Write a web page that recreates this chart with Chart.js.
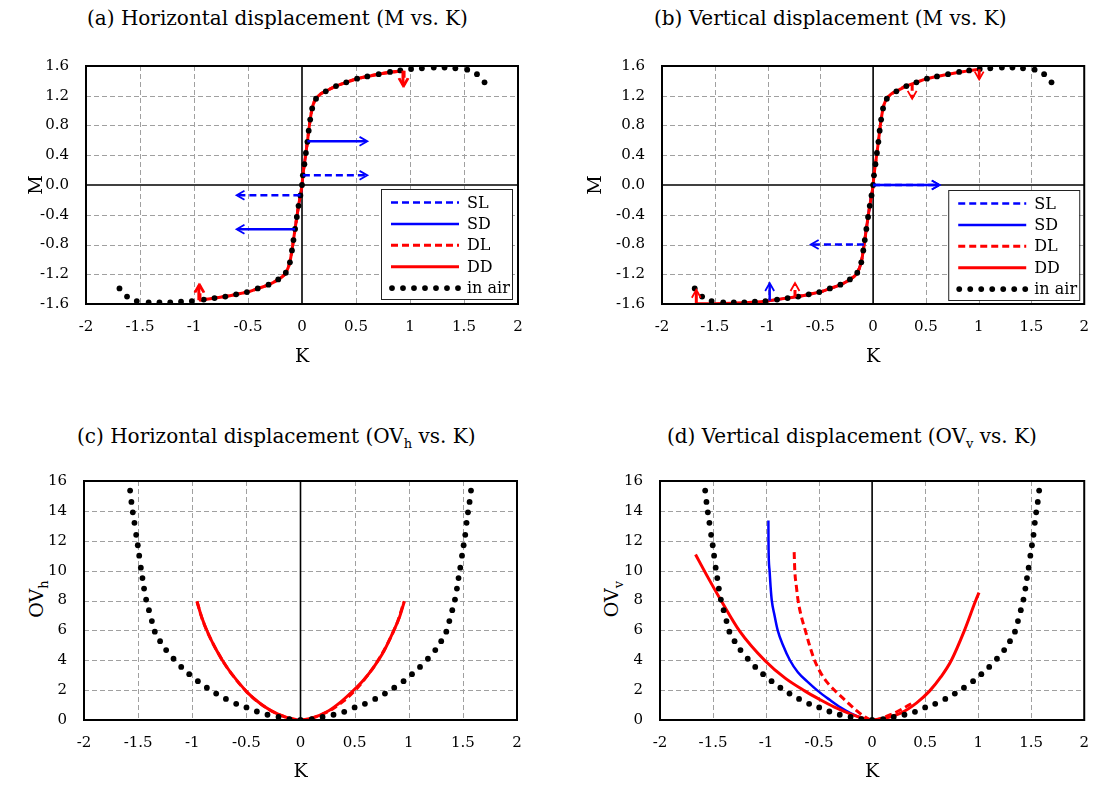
<!DOCTYPE html>
<html>
<head>
<meta charset="utf-8">
<script src="https://cdn.jsdelivr.net/npm/chart.js@4.4.1/dist/chart.umd.min.js"></script>
<style>
  body { margin: 0; width: 1103px; height: 788px; overflow: hidden; background: #fff; position: relative;
         font-family: "DejaVu Serif", serif; color: #000; }
  canvas { position: absolute; }
  .ttl { position: absolute; font-size: 20px; line-height: 20px; white-space: nowrap; }
  .ylab { position: absolute; font-size: 19px; line-height: 19px; white-space: nowrap;
          transform: translate(-50%, -50%) rotate(-90deg); }
  .sub { font-size: 13px; position: relative; top: 5px; }
</style>
</head>
<body>
<div class="ttl" style="left:87px; top:8px">(a) Horizontal displacement (M vs. K)</div>
<div class="ttl" style="left:654px; top:8px">(b) Vertical displacement (M vs. K)</div>
<div class="ttl" style="left:77px; top:426px">(c) Horizontal displacement (OV<span class="sub">h</span> vs. K)</div>
<div class="ttl" style="left:667px; top:426px">(d) Vertical displacement (OV<span class="sub">v</span> vs. K)</div>
<div class="ylab" style="left:37px; top:599px">OV<span class="sub">h</span></div>
<div class="ylab" style="left:612px; top:599px">OV<span class="sub">v</span></div>

<canvas id="chartA" width="545" height="345" style="left:0; top:40px"></canvas>
<canvas id="chartB" width="543" height="345" style="left:560px; top:40px"></canvas>
<canvas id="chartC" width="545" height="333" style="left:0; top:455px"></canvas>
<canvas id="chartD" width="543" height="333" style="left:560px; top:455px"></canvas>

<script>
// tick labels
const K_TICKS = ['-2', '-1.5', '-1', '-0.5', '0', '0.5', '1', '1.5', '2'];
const M_TICKS = ['-1.6', '-1.2', '-0.8', '-0.4', '0.0', '0.4', '0.8', '1.2', '1.6'];
const OV_TICKS = ['0', '2', '4', '6', '8', '10', '12', '14', '16'];

// in air, M vs K (panels a, b)
const airK = [-1.69, -1.62, -1.53, -1.42, -1.32, -1.22, -1.12, -1.02, -0.91, -0.81, -0.71, -0.61, -0.51, -0.41, -0.31, -0.22, -0.15, -0.112, -0.093, -0.079, -0.064, -0.048, -0.032, -0.015, 0,
              0.008, 0.022, 0.036, 0.05, 0.062, 0.076, 0.094, 0.13, 0.22, 0.315, 0.41, 0.51, 0.605, 0.71, 0.815, 0.91, 1.01, 1.11, 1.22, 1.32, 1.42, 1.53, 1.62, 1.69];
const airM = [-1.39, -1.50, -1.56, -1.58, -1.58, -1.58, -1.57, -1.56, -1.54, -1.52, -1.50, -1.47, -1.44, -1.39, -1.34, -1.27, -1.18, -1.04, -0.88, -0.74, -0.59, -0.43, -0.28, -0.14, 0,
              0.13, 0.28, 0.43, 0.58, 0.73, 0.88, 1.03, 1.16, 1.26, 1.33, 1.38, 1.43, 1.46, 1.49, 1.52, 1.54, 1.56, 1.57, 1.58, 1.58, 1.57, 1.55, 1.49, 1.38];

// in air, OV vs K (panels c, d)
const airOvK = [-1.574, -1.562, -1.549, -1.534, -1.518, -1.503, -1.49, -1.475, -1.46, -1.445, -1.426, -1.40, -1.373, -1.346, -1.297, -1.241, -1.173, -1.102, -1.028, -0.948, -0.865, -0.779, -0.689, -0.594, -0.499, -0.403, -0.305, -0.203, -0.102, 0,
                0.104, 0.204, 0.305, 0.404, 0.5, 0.595, 0.69, 0.78, 0.866, 0.952, 1.03, 1.104, 1.177, 1.245, 1.30, 1.347, 1.375, 1.402, 1.427, 1.445, 1.46, 1.476, 1.492, 1.507, 1.522, 1.534, 1.547, 1.562, 1.575];
const airOv = [15.36, 14.6, 13.9, 13.2, 12.4, 11.7, 11.0, 10.2, 9.5, 8.8, 8.06, 7.35, 6.62, 5.91, 5.28, 4.68, 4.1, 3.55, 3.07, 2.6, 2.16, 1.77, 1.41, 1.08, 0.84, 0.57, 0.35, 0.2, 0.05, 0,
               0.05, 0.2, 0.35, 0.55, 0.84, 1.08, 1.41, 1.77, 2.16, 2.6, 3.07, 3.55, 4.1, 4.68, 5.28, 5.91, 6.62, 7.35, 8.06, 8.8, 9.5, 10.2, 11.0, 11.7, 12.4, 13.2, 13.9, 14.6, 15.36];

// (a) horizontal displacement, M vs K
const slKa = [-0.015, 0, 0.008];
const slMa = [-0.137, 0, 0.13];
const sdKa = [-0.064, -0.048, -0.032, -0.015, 0, 0.008, 0.022, 0.036, 0.05];
const sdMa = [-0.595, -0.43, -0.28, -0.14, 0, 0.13, 0.28, 0.43, 0.587];
const dlKa = [-0.945, -0.9, -0.8, -0.7, -0.6, -0.5, -0.4, -0.3, -0.22, -0.16, -0.13, -0.11, -0.093, -0.079, -0.064, -0.048, -0.032, -0.015, 0,
              0.008, 0.022, 0.036, 0.05, 0.062, 0.076, 0.094, 0.12, 0.16, 0.22, 0.315, 0.41, 0.51, 0.605, 0.71, 0.815, 0.945];
const dlMa = [-1.548, -1.538, -1.518, -1.497, -1.468, -1.437, -1.388, -1.335, -1.27, -1.2, -1.12, -1.02, -0.88, -0.74, -0.59, -0.43, -0.28, -0.14, 0,
              0.13, 0.28, 0.43, 0.58, 0.73, 0.88, 1.03, 1.14, 1.21, 1.26, 1.33, 1.38, 1.43, 1.46, 1.49, 1.515, 1.536];
const ddKa = [-0.955, -0.9, -0.8, -0.7, -0.6, -0.5, -0.4, -0.3, -0.22, -0.16, -0.13, -0.11, -0.093, -0.079, -0.064, -0.048, -0.032, -0.015, 0,
              0.008, 0.022, 0.036, 0.05, 0.062, 0.076, 0.094, 0.12, 0.16, 0.22, 0.315, 0.41, 0.51, 0.605, 0.71, 0.815, 0.935];
const ddMa = [-1.548, -1.538, -1.518, -1.497, -1.468, -1.437, -1.388, -1.335, -1.27, -1.2, -1.12, -1.02, -0.88, -0.74, -0.59, -0.43, -0.28, -0.14, 0,
              0.13, 0.28, 0.43, 0.58, 0.73, 0.88, 1.03, 1.14, 1.21, 1.26, 1.33, 1.38, 1.43, 1.46, 1.49, 1.515, 1.536];
// arrows as [K start, M start, K end, M end]
const slArrowsA = [[0.008, 0.13, 0.605, 0.13], [-0.015, -0.137, -0.605, -0.137]];
const sdArrowsA = [[0.05, 0.587, 0.605, 0.587], [-0.064, -0.595, -0.605, -0.595]];
const dlArrowsA = [[-0.945, -1.548, -0.945, -1.34], [0.945, 1.536, 0.945, 1.33]];
const ddArrowsA = [[-0.955, -1.548, -0.955, -1.34], [0.935, 1.536, 0.935, 1.33]];

// (b) vertical displacement, M vs K
const slKb = [-0.087, -0.079, -0.064, -0.048, -0.032, -0.015, 0];
const slMb = [-0.8, -0.74, -0.59, -0.43, -0.28, -0.14, 0];
const sdKb = [-0.98, -0.9, -0.8, -0.7, -0.6, -0.5, -0.4, -0.3, -0.22, -0.16, -0.13, -0.11, -0.093, -0.079, -0.064, -0.048, -0.032, -0.015, 0];
const sdMb = [-1.555, -1.538, -1.518, -1.497, -1.468, -1.437, -1.388, -1.335, -1.27, -1.2, -1.12, -1.02, -0.88, -0.74, -0.59, -0.43, -0.28, -0.14, 0];
const dlKb = [-0.74, -0.7, -0.6, -0.5, -0.4, -0.3, -0.22, -0.16, -0.13, -0.11, -0.093, -0.079, -0.064, -0.048, -0.032, -0.015, 0,
              0.008, 0.022, 0.036, 0.05, 0.062, 0.076, 0.094, 0.12, 0.16, 0.22, 0.3, 0.37];
const dlMb = [-1.505, -1.497, -1.468, -1.437, -1.388, -1.335, -1.27, -1.2, -1.12, -1.02, -0.88, -0.74, -0.59, -0.43, -0.28, -0.14, 0,
              0.13, 0.28, 0.43, 0.58, 0.73, 0.88, 1.03, 1.14, 1.21, 1.26, 1.325, 1.36];
const ddKb = [-1.675, -1.5, -1.3, -1.15, -1.0, -0.9, -0.8, -0.7, -0.6, -0.5, -0.4, -0.3, -0.22, -0.16, -0.13, -0.11, -0.093, -0.079, -0.064, -0.048, -0.032, -0.015, 0,
              0.008, 0.022, 0.036, 0.05, 0.062, 0.076, 0.094, 0.12, 0.16, 0.22, 0.315, 0.41, 0.51, 0.605, 0.71, 0.815, 0.91, 1.005];
const ddMb = [-1.598, -1.595, -1.588, -1.578, -1.56, -1.538, -1.518, -1.497, -1.468, -1.437, -1.388, -1.335, -1.27, -1.2, -1.12, -1.02, -0.88, -0.74, -0.59, -0.43, -0.28, -0.14, 0,
              0.13, 0.28, 0.43, 0.58, 0.73, 0.88, 1.03, 1.14, 1.21, 1.26, 1.33, 1.38, 1.43, 1.46, 1.49, 1.515, 1.538, 1.555];
const slArrowsB = [[-0.087, -0.8, -0.59, -0.8], [0, 0, 0.63, 0]];
const sdArrowsB = [[-0.98, -1.555, -0.98, -1.32], [0, 0, 0.63, 0]];
const dlArrowsB = [[-0.74, -1.505, -0.74, -1.32], [0.37, 1.36, 0.37, 1.16]];
const ddArrowsB = [[-1.675, -1.598, -1.675, -1.41], [1.005, 1.555, 1.005, 1.42]];

// (c) horizontal displacement, OVh vs K
const slKc = [-0.02, 0, 0.01];
const slOvc = [0.01, 0, 0.005];
const sdKc = [-0.07, 0, 0.05];
const sdOvc = [0.04, 0, 0.02];
const dlKc = [-0.955, -0.9, -0.8, -0.7, -0.6, -0.5, -0.4, -0.3, -0.2, -0.1, 0, 0.1, 0.2, 0.3, 0.4, 0.5, 0.6, 0.7, 0.8, 0.9, 0.955];
const dlOvc = [7.9, 6.6, 5.0, 3.75, 2.75, 1.9, 1.25, 0.74, 0.37, 0.12, 0, 0.12, 0.37, 0.76, 1.28, 1.95, 2.8, 3.8, 5.05, 6.65, 7.9];
const ddKc = [-0.957, -0.911, -0.85, -0.773, -0.68, -0.588, -0.48, -0.372, -0.28, -0.188, -0.095, 0, 0.1, 0.244, 0.37, 0.49, 0.585, 0.675, 0.77, 0.86, 0.915, 0.96];
const ddOvc = [7.95, 6.84, 5.74, 4.64, 3.53, 2.65, 1.77, 1.1, 0.66, 0.33, 0.11, 0, 0.12, 0.55, 1.2, 1.99, 2.7, 3.53, 4.6, 5.96, 6.9, 7.95];

// (d) vertical displacement, OVv vs K
const slKd = [-0.093, -0.05, 0];
const slOvd = [0.07, 0.02, 0];
const sdKd = [-0.978, -0.977, -0.975, -0.967, -0.958, -0.946, -0.92, -0.89, -0.84, -0.775, -0.7, -0.6, -0.512, -0.4, -0.3, -0.2, -0.1, 0];
const sdOvd = [13.36, 12.0, 11.0, 10.0, 9.0, 8.0, 7.0, 6.0, 5.0, 4.0, 3.2, 2.5, 1.95, 1.35, 0.85, 0.45, 0.15, 0];
const dlKd = [-0.735, -0.729, -0.715, -0.698, -0.67, -0.63, -0.59, -0.543, -0.48, -0.41, -0.341, -0.25, -0.15, -0.077, 0, 0.2, 0.372];
const dlOvd = [11.24, 10.0, 9.0, 8.0, 7.0, 6.0, 5.0, 4.0, 3.1, 2.4, 1.9, 1.3, 0.65, 0.25, 0, 0.44, 1.1];
const ddKd = [-1.665, -1.56, -1.42, -1.249, -1.007, -0.82, -0.636, -0.5, -0.36, -0.2, -0.1, 0,
              0.108, 0.264, 0.42, 0.543, 0.65, 0.744, 0.868, 0.977, 1.008];
const ddOvd = [11.08, 9.7, 7.95, 5.95, 3.95, 2.8, 1.95, 1.4, 0.88, 0.4, 0.15, 0,
               0.1, 0.44, 1.15, 1.95, 2.9, 3.95, 5.95, 8.0, 8.53];

const BLUE = '#0000ff';
const RED = '#ff0000';
const FONT = 'DejaVu Serif';

const zip = (xs, ys) => xs.map((x, i) => ({ x: x, y: ys[i] }));

function curve(label, xs, ys, color, dashed, order, arrows) {
    return {
        label: label,
        data: zip(xs, ys),
        showLine: true,
        borderColor: color,
        backgroundColor: color,
        borderWidth: color === RED ? 3 : 2.5,
        borderDash: dashed ? [7, 4] : [],
        pointRadius: 0,
        cubicInterpolationMode: 'monotone',
        order: order,
        arrows: arrows || []
    };
}

function airDots(xs, ys) {
    return {
        label: 'in air',
        data: zip(xs, ys),
        showLine: false,
        pointRadius: 2.9,
        pointBorderWidth: 0,
        pointBackgroundColor: '#000',
        borderColor: '#000',
        backgroundColor: '#000',
        order: 0
    };
}

// dashed grid, black zero lines and the box around the plot
const frame = {
    id: 'frame',
    beforeDatasetsDraw(chart) {
        const { ctx, chartArea: a, scales: { x, y } } = chart;
        ctx.save();
        ctx.lineWidth = 1;
        ctx.strokeStyle = '#a0a0a0';
        ctx.setLineDash([5, 3]);
        x.ticks.forEach(t => {
            if (t.value <= x.min || t.value >= x.max || t.value === 0) return;
            const px = Math.round(x.getPixelForValue(t.value)) + 0.5;
            ctx.beginPath(); ctx.moveTo(px, a.top); ctx.lineTo(px, a.bottom); ctx.stroke();
        });
        y.ticks.forEach(t => {
            if (t.value <= y.min || t.value >= y.max || t.value === 0) return;
            const py = Math.round(y.getPixelForValue(t.value)) + 0.5;
            ctx.beginPath(); ctx.moveTo(a.left, py); ctx.lineTo(a.right, py); ctx.stroke();
        });
        ctx.setLineDash([]);
        ctx.strokeStyle = '#000';
        ctx.lineWidth = 1.6;
        const x0 = x.getPixelForValue(0);
        ctx.beginPath(); ctx.moveTo(x0, a.top); ctx.lineTo(x0, a.bottom); ctx.stroke();
        if (y.min < 0) {
            const y0 = y.getPixelForValue(0);
            ctx.beginPath(); ctx.moveTo(a.left, y0); ctx.lineTo(a.right, y0); ctx.stroke();
        }
        ctx.restore();
    },
    afterDraw(chart) {
        const { ctx, chartArea: a } = chart;
        ctx.save();
        ctx.strokeStyle = '#000';
        ctx.lineWidth = 2;
        ctx.strokeRect(a.left, a.top, a.right - a.left, a.bottom - a.top);
        ctx.restore();
    }
};

// shafts with open arrow heads, styled like their series
const arrowHeads = {
    id: 'arrowHeads',
    afterDatasetsDraw(chart) {
        const { ctx, scales: { x, y } } = chart;
        ctx.save();
        chart.data.datasets.forEach(ds => {
            (ds.arrows || []).forEach(([k0, v0, k1, v1]) => {
                const x0 = x.getPixelForValue(k0), y0 = y.getPixelForValue(v0);
                const x1 = x.getPixelForValue(k1), y1 = y.getPixelForValue(v1);
                const ang = Math.atan2(y1 - y0, x1 - x0);
                ctx.strokeStyle = ds.borderColor;
                ctx.lineWidth = ds.borderWidth;
                ctx.setLineDash(ds.borderDash);
                ctx.beginPath(); ctx.moveTo(x0, y0); ctx.lineTo(x1 - Math.cos(ang), y1 - Math.sin(ang)); ctx.stroke();
                ctx.setLineDash([]);
                ctx.lineWidth = 1.8;
                const len = 9, half = 0.52;
                ctx.beginPath();
                ctx.moveTo(x1 - len * Math.cos(ang - half), y1 - len * Math.sin(ang - half));
                ctx.lineTo(x1, y1);
                ctx.lineTo(x1 - len * Math.cos(ang + half), y1 - len * Math.sin(ang + half));
                ctx.stroke();
            });
        });
        ctx.restore();
    }
};

// boxed legend in the lower right corner of the plot
const boxLegend = {
    id: 'boxLegend',
    afterDraw(chart, args, opts) {
        if (!opts.show) return;
        const { ctx, chartArea: a } = chart;
        const w = 131, h = 110;
        const left = a.right - opts.right - w;
        const top = a.bottom - opts.bottom - h;
        ctx.save();
        ctx.fillStyle = '#fff';
        ctx.fillRect(left, top, w, h);
        ctx.strokeStyle = '#222';
        ctx.lineWidth = 1;
        ctx.strokeRect(left + 0.5, top + 0.5, w, h);
        chart.data.datasets.forEach((ds, i) => {
            const cy = top + 13.5 + i * 21.4;
            if (ds.showLine) {
                ctx.strokeStyle = ds.borderColor;
                ctx.lineWidth = ds.borderWidth;
                ctx.setLineDash(ds.borderDash);
                ctx.beginPath(); ctx.moveTo(left + 10, cy); ctx.lineTo(left + 78, cy); ctx.stroke();
                ctx.setLineDash([]);
            } else {
                ctx.fillStyle = '#000';
                for (let j = 0; j < 7; j++) {
                    ctx.beginPath(); ctx.arc(left + 11 + j * 11, cy, 2.9, 0, Math.PI * 2); ctx.fill();
                }
            }
            ctx.fillStyle = '#000';
            ctx.font = '16px "' + FONT + '"';
            ctx.textBaseline = 'middle';
            ctx.textAlign = 'left';
            ctx.fillText(ds.label, left + 86, cy + 1);
        });
        ctx.restore();
    }
};

function makeChart(id, datasets, cfg) {
    const tickFont = { family: FONT, size: 15 };
    return new Chart(document.getElementById(id), {
        type: 'scatter',
        data: { datasets: datasets },
        options: {
            responsive: false,
            animation: false,
            devicePixelRatio: 1,
            layout: { padding: { top: cfg.padTop, right: cfg.padRight, left: 0, bottom: 0 } },
            plugins: {
                legend: { display: false },
                tooltip: { enabled: false },
                boxLegend: cfg.legend || { show: false }
            },
            scales: {
                x: {
                    type: 'linear', min: -2, max: 2,
                    grid: { display: false, drawTicks: false },
                    border: { display: false },
                    ticks: { stepSize: 0.5, padding: 14, color: '#000', font: tickFont, maxRotation: 0, autoSkip: false,
                             callback: (v, i) => K_TICKS[i] },
                    title: { display: true, text: 'K', color: '#000', font: { family: FONT, size: 19 },
                             padding: { top: 0, bottom: cfg.kPad } },
                    afterFit: s => { s.height = cfg.xHeight; }
                },
                y: {
                    type: 'linear', min: cfg.yMin, max: cfg.yMax,
                    grid: { display: false, drawTicks: false },
                    border: { display: false },
                    ticks: { stepSize: cfg.yStep, padding: 17, color: '#000', font: tickFont, autoSkip: false,
                             callback: (v, i) => cfg.yTicks[i] },
                    title: { display: !!cfg.yTitle, text: cfg.yTitle || '', color: '#000', font: { family: FONT, size: 19 },
                             padding: { top: cfg.yPad || 0, bottom: 0 } },
                    afterFit: s => { s.width = cfg.yWidth; }
                }
            }
        },
        plugins: [frame, arrowHeads, boxLegend]
    });
}

makeChart('chartA', [
    curve('SL', slKa, slMa, BLUE, true, 4, slArrowsA),
    curve('SD', sdKa, sdMa, BLUE, false, 3, sdArrowsA),
    curve('DL', dlKa, dlMa, RED, true, 2, dlArrowsA),
    curve('DD', ddKa, ddMa, RED, false, 1, ddArrowsA),
    airDots(airK, airM)
], { padTop: 23, padRight: 27, xHeight: 81, kPad: 16.6, yWidth: 86, yMin: -1.6, yMax: 1.6, yStep: 0.4,
     yTicks: M_TICKS, yTitle: 'M', yPad: 25.6, legend: { show: true, right: 6, bottom: 5 } });

makeChart('chartB', [
    curve('SL', slKb, slMb, BLUE, true, 4, slArrowsB),
    curve('SD', sdKb, sdMb, BLUE, false, 3, sdArrowsB),
    curve('DL', dlKb, dlMb, RED, true, 2, dlArrowsB),
    curve('DD', ddKb, ddMb, RED, false, 1, ddArrowsB),
    airDots(airK, airM)
], { padTop: 23, padRight: 11, xHeight: 81, kPad: 16.6, yWidth: 102, yMin: -1.6, yMax: 1.6, yStep: 0.4,
     yTicks: M_TICKS, yTitle: 'M', yPad: 24.6, legend: { show: true, right: 5, bottom: 4 } });

makeChart('chartC', [
    curve('SL', slKc, slOvc, BLUE, true, 4),
    curve('SD', sdKc, sdOvc, BLUE, false, 3),
    curve('DL', dlKc, dlOvc, RED, true, 2),
    curve('DD', ddKc, ddOvc, RED, false, 1),
    airDots(airOvK, airOv)
], { padTop: 23, padRight: 28, xHeight: 68, kPad: 4.6, yWidth: 84, yMin: 0, yMax: 16, yStep: 2,
     yTicks: OV_TICKS });

makeChart('chartD', [
    curve('SL', slKd, slOvd, BLUE, true, 4),
    curve('SD', sdKd, sdOvd, BLUE, false, 3),
    curve('DL', dlKd, dlOvd, RED, true, 2),
    curve('DD', ddKd, ddOvd, RED, false, 1),
    airDots(airOvK, airOv)
], { padTop: 23, padRight: 12, xHeight: 68, kPad: 4.6, yWidth: 100, yMin: 0, yMax: 16, yStep: 2,
     yTicks: OV_TICKS });
</script>
</body>
</html>
